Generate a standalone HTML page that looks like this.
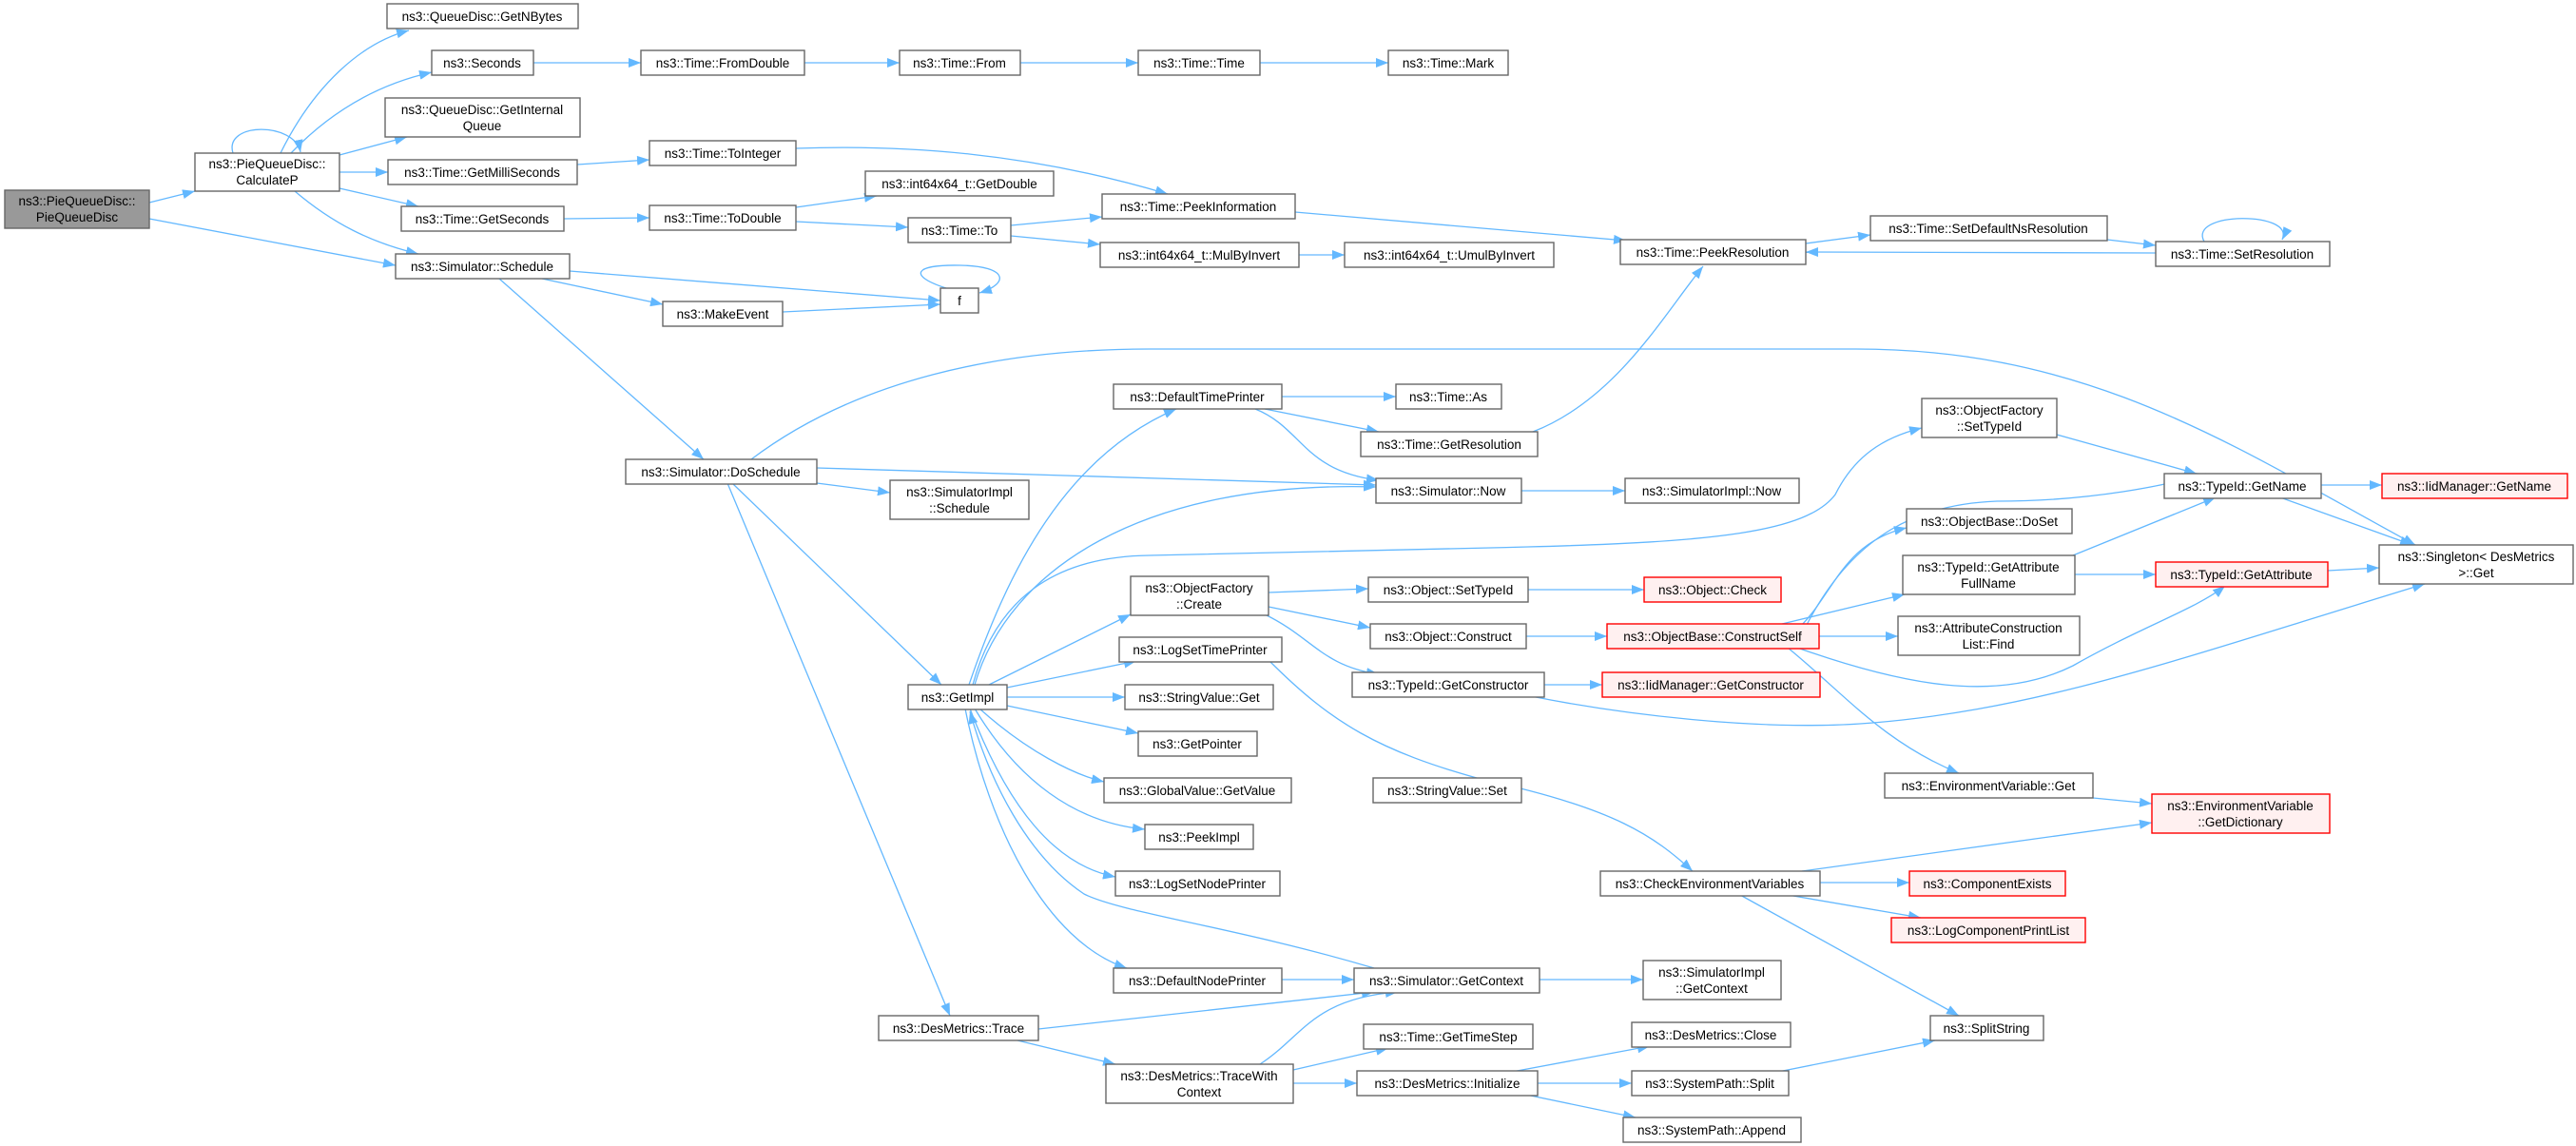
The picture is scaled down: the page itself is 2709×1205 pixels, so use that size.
<!DOCTYPE html>
<html><head><meta charset="utf-8"><style>
html,body{margin:0;padding:0;background:#fff;}
svg{display:block;}
text{font-family:"Liberation Sans","DejaVu Sans",sans-serif;font-size:13.5px;fill:#000;text-anchor:middle;}
.n{fill:#fff;stroke:#666;stroke-width:1.4;}
.r{fill:#fff0f0;stroke:#ff0000;stroke-width:1.4;}
.g{fill:#999;stroke:#666;stroke-width:1.4;}
path{fill:none;stroke:#63b8ff;stroke-width:1.3;}
</style></head><body>
<svg width="2709" height="1205" viewBox="0 0 2709 1205" xmlns="http://www.w3.org/2000/svg">
<defs><marker id="a" markerUnits="userSpaceOnUse" markerWidth="14" markerHeight="10" refX="13" refY="5" orient="auto"><polygon points="0,0 13,5 0,10" fill="#63b8ff"/></marker></defs>
<g marker-end="url(#a)">
<path d="M157,213 L205,201"/>
<path d="M157,230 L416,279"/>
<path d="M245,161 C235,128 310,128 316,160"/>
<path d="M295,161 C330,90 380,45 430,32"/>
<path d="M306,161 C350,115 400,88 454,76"/>
<path d="M357,163 L428,144"/>
<path d="M357,181 L408,181"/>
<path d="M357,198 L440,217"/>
<path d="M310,201 C350,235 390,255 440,267"/>
<path d="M561,66 L674,66"/>
<path d="M846,66 L946,66"/>
<path d="M1073,66 L1197,66"/>
<path d="M1325,66 L1460,66"/>
<path d="M607,173 L683,168"/>
<path d="M593,230 L683,229"/>
<path d="M837,156 C950,152 1080,160 1228,204"/>
<path d="M837,218 L922,206"/>
<path d="M837,233 L955,239"/>
<path d="M1063,237 L1159,228"/>
<path d="M1063,248 L1157,257"/>
<path d="M1366,268 L1414,268"/>
<path d="M1362,223 C1500,235 1620,245 1710,253"/>
<path d="M1899,256 L1967,247"/>
<path d="M2216,252 L2267,258"/>
<path d="M2267,266 L1899,265"/>
<path d="M2318,254 C2300,222 2415,222 2400,252"/>
<path d="M599,285 L989,316"/>
<path d="M570,293 L697,320"/>
<path d="M823,328 L989,320"/>
<path d="M995,303 C955,290 960,278 1010,279 C1060,280 1062,298 1030,308"/>
<path d="M525,293 L740,483"/>
<path d="M790,483 C900,400 1050,367 1209,367 L1952,367 C2200,367 2350,470 2540,573"/>
<path d="M859,492 L1447,510"/>
<path d="M859,508 L936,518"/>
<path d="M770,508 L990,720"/>
<path d="M765,508 L999,1068"/>
<path d="M1348,417 L1468,417"/>
<path d="M1330,430 L1450,454"/>
<path d="M1320,430 C1370,450 1370,495 1450,505"/>
<path d="M1612,454 C1700,420 1750,330 1791,280"/>
<path d="M1600,516 L1709,516"/>
<path d="M1019,720 C1060,600 1120,480 1237,430"/>
<path d="M1025,720 C1060,600 1200,505 1447,512"/>
<path d="M1023,720 C1050,620 1120,585 1209,584 C1400,580 1500,578 1607,575 C1800,570 1900,560 1930,520 C1950,480 1980,460 2021,450"/>
<path d="M1040,720 L1189,646"/>
<path d="M1059,723 L1195,695"/>
<path d="M1059,733 L1183,733"/>
<path d="M1059,742 L1197,771"/>
<path d="M1030,745 C1080,790 1130,815 1161,822"/>
<path d="M1025,745 C1070,820 1130,865 1204,872"/>
<path d="M1020,745 C1060,850 1110,910 1173,922"/>
<path d="M1015,745 C1040,870 1100,990 1185,1018"/>
<path d="M1445,1018 C1300,975 1180,960 1140,940 C1080,900 1040,820 1020,748"/>
<path d="M1348,1030 L1424,1030"/>
<path d="M1619,1030 L1728,1030"/>
<path d="M1092,1082 C1250,1065 1380,1050 1445,1043"/>
<path d="M1070,1094 L1173,1119"/>
<path d="M1325,1119 C1370,1090 1380,1050 1470,1043"/>
<path d="M1360,1125 L1460,1102"/>
<path d="M1360,1139 L1427,1139"/>
<path d="M1590,1127 L1735,1100"/>
<path d="M1617,1139 L1716,1139"/>
<path d="M1600,1150 L1720,1175"/>
<path d="M1870,1127 L2035,1094"/>
<path d="M1830,941 L2060,1068"/>
<path d="M1914,928 L2008,928"/>
<path d="M1880,941 L2020,965"/>
<path d="M1895,916 L2263,865"/>
<path d="M1335,695 C1400,760 1450,790 1560,820 C1700,850 1740,880 1780,916"/>
<path d="M2201,839 L2263,845"/>
<path d="M1334,623 L1439,619"/>
<path d="M1334,638 L1441,660"/>
<path d="M1330,646 C1380,670 1390,700 1450,709"/>
<path d="M1607,620 L1729,620"/>
<path d="M1605,669 L1690,669"/>
<path d="M1624,720 L1685,720"/>
<path d="M1610,732 C1700,750 1850,770 1970,760 C2150,745 2300,690 2550,614"/>
<path d="M1895,657 C1930,620 1940,570 2005,555"/>
<path d="M1870,657 L2003,625"/>
<path d="M1913,669 L1996,669"/>
<path d="M1900,657 C1950,560 2020,530 2100,527 C2200,527 2280,510 2320,498"/>
<path d="M1890,681 C2000,720 2100,740 2180,700 C2250,660 2310,640 2340,616"/>
<path d="M1880,681 C1940,730 1980,780 2060,813"/>
<path d="M2163,457 L2310,498"/>
<path d="M2180,584 L2330,523"/>
<path d="M2182,604 L2267,604"/>
<path d="M2441,510 L2505,510"/>
<path d="M2398,523 L2537,573"/>
<path d="M2448,600 L2502,597"/>
</g>

<rect class="g" x="5" y="200" width="152" height="40"/><text x="81" y="216">ns3::PieQueueDisc::</text><text x="81" y="233">PieQueueDisc</text>
<rect class="n" x="205" y="161" width="152" height="40"/><text x="281" y="177">ns3::PieQueueDisc::</text><text x="281" y="194">CalculateP</text>
<rect class="n" x="407" y="4" width="201" height="26"/><text x="507" y="22">ns3::QueueDisc::GetNBytes</text>
<rect class="n" x="454" y="53" width="107" height="26"/><text x="507" y="71">ns3::Seconds</text>
<rect class="n" x="405" y="103" width="205" height="41"/><text x="507" y="120">ns3::QueueDisc::GetInternal</text><text x="507" y="137">Queue</text>
<rect class="n" x="408" y="168" width="199" height="26"/><text x="507" y="186">ns3::Time::GetMilliSeconds</text>
<rect class="n" x="422" y="217" width="171" height="26"/><text x="507" y="235">ns3::Time::GetSeconds</text>
<rect class="n" x="416" y="267" width="183" height="26"/><text x="507" y="285">ns3::Simulator::Schedule</text>
<rect class="n" x="674" y="53" width="172" height="26"/><text x="760" y="71">ns3::Time::FromDouble</text>
<rect class="n" x="946" y="53" width="127" height="26"/><text x="1009" y="71">ns3::Time::From</text>
<rect class="n" x="1197" y="53" width="128" height="26"/><text x="1261" y="71">ns3::Time::Time</text>
<rect class="n" x="1460" y="53" width="126" height="26"/><text x="1523" y="71">ns3::Time::Mark</text>
<rect class="n" x="683" y="148" width="154" height="26"/><text x="760" y="166">ns3::Time::ToInteger</text>
<rect class="n" x="910" y="180" width="198" height="26"/><text x="1009" y="198">ns3::int64x64_t::GetDouble</text>
<rect class="n" x="683" y="216" width="154" height="26"/><text x="760" y="234">ns3::Time::ToDouble</text>
<rect class="n" x="955" y="229" width="108" height="26"/><text x="1009" y="247">ns3::Time::To</text>
<rect class="n" x="1159" y="204" width="203" height="26"/><text x="1260" y="222">ns3::Time::PeekInformation</text>
<rect class="n" x="1157" y="255" width="209" height="26"/><text x="1261" y="273">ns3::int64x64_t::MulByInvert</text>
<rect class="n" x="1414" y="255" width="220" height="26"/><text x="1524" y="273">ns3::int64x64_t::UmulByInvert</text>
<rect class="n" x="989" y="303" width="40" height="26"/><text x="1009" y="321">f</text>
<rect class="n" x="697" y="317" width="126" height="26"/><text x="760" y="335">ns3::MakeEvent</text>
<rect class="n" x="1704" y="252" width="195" height="26"/><text x="1801" y="270">ns3::Time::PeekResolution</text>
<rect class="n" x="1967" y="227" width="249" height="26"/><text x="2091" y="245">ns3::Time::SetDefaultNsResolution</text>
<rect class="n" x="2267" y="254" width="183" height="26"/><text x="2358" y="272">ns3::Time::SetResolution</text>
<rect class="n" x="1171" y="404" width="177" height="26"/><text x="1259" y="422">ns3::DefaultTimePrinter</text>
<rect class="n" x="1468" y="404" width="111" height="26"/><text x="1523" y="422">ns3::Time::As</text>
<rect class="n" x="1431" y="454" width="186" height="26"/><text x="1524" y="472">ns3::Time::GetResolution</text>
<rect class="n" x="1447" y="503" width="153" height="26"/><text x="1523" y="521">ns3::Simulator::Now</text>
<rect class="n" x="1709" y="503" width="183" height="26"/><text x="1800" y="521">ns3::SimulatorImpl::Now</text>
<rect class="n" x="2021" y="419" width="142" height="41"/><text x="2092" y="436">ns3::ObjectFactory</text><text x="2092" y="453">::SetTypeId</text>
<rect class="n" x="2276" y="498" width="165" height="26"/><text x="2358" y="516">ns3::TypeId::GetName</text>
<rect class="r" x="2505" y="498" width="195" height="26"/><text x="2602" y="516">ns3::IidManager::GetName</text>
<rect class="n" x="2005" y="535" width="174" height="26"/><text x="2092" y="553">ns3::ObjectBase::DoSet</text>
<rect class="n" x="2502" y="573" width="204" height="41"/><text x="2604" y="590">ns3::Singleton&lt; DesMetrics</text><text x="2604" y="607"> &gt;::Get</text>
<rect class="n" x="658" y="483" width="201" height="26"/><text x="758" y="501">ns3::Simulator::DoSchedule</text>
<rect class="n" x="936" y="505" width="146" height="41"/><text x="1009" y="522">ns3::SimulatorImpl</text><text x="1009" y="539">::Schedule</text>
<rect class="n" x="2001" y="584" width="181" height="41"/><text x="2091" y="601">ns3::TypeId::GetAttribute</text><text x="2091" y="618">FullName</text>
<rect class="r" x="2267" y="591" width="181" height="26"/><text x="2357" y="609">ns3::TypeId::GetAttribute</text>
<rect class="n" x="1189" y="606" width="145" height="41"/><text x="1261" y="623">ns3::ObjectFactory</text><text x="1261" y="640">::Create</text>
<rect class="n" x="1439" y="607" width="168" height="26"/><text x="1523" y="625">ns3::Object::SetTypeId</text>
<rect class="r" x="1729" y="607" width="144" height="26"/><text x="1801" y="625">ns3::Object::Check</text>
<rect class="n" x="1441" y="656" width="164" height="26"/><text x="1523" y="674">ns3::Object::Construct</text>
<rect class="r" x="1690" y="656" width="223" height="26"/><text x="1801" y="674">ns3::ObjectBase::ConstructSelf</text>
<rect class="n" x="1996" y="648" width="191" height="41"/><text x="2091" y="665">ns3::AttributeConstruction</text><text x="2091" y="682">List::Find</text>
<rect class="n" x="1177" y="670" width="171" height="26"/><text x="1262" y="688">ns3::LogSetTimePrinter</text>
<rect class="n" x="955" y="720" width="104" height="26"/><text x="1007" y="738">ns3::GetImpl</text>
<rect class="n" x="1422" y="707" width="202" height="26"/><text x="1523" y="725">ns3::TypeId::GetConstructor</text>
<rect class="r" x="1685" y="707" width="229" height="26"/><text x="1799" y="725">ns3::IidManager::GetConstructor</text>
<rect class="n" x="1183" y="720" width="156" height="26"/><text x="1261" y="738">ns3::StringValue::Get</text>
<rect class="n" x="1197" y="769" width="125" height="26"/><text x="1259" y="787">ns3::GetPointer</text>
<rect class="n" x="1161" y="818" width="197" height="26"/><text x="1259" y="836">ns3::GlobalValue::GetValue</text>
<rect class="n" x="1444" y="818" width="156" height="26"/><text x="1522" y="836">ns3::StringValue::Set</text>
<rect class="n" x="1982" y="813" width="219" height="26"/><text x="2091" y="831">ns3::EnvironmentVariable::Get</text>
<rect class="r" x="2263" y="835" width="187" height="41"/><text x="2356" y="852">ns3::EnvironmentVariable</text><text x="2356" y="869">::GetDictionary</text>
<rect class="n" x="1204" y="867" width="114" height="26"/><text x="1261" y="885">ns3::PeekImpl</text>
<rect class="n" x="1173" y="916" width="173" height="26"/><text x="1259" y="934">ns3::LogSetNodePrinter</text>
<rect class="n" x="1683" y="916" width="231" height="26"/><text x="1798" y="934">ns3::CheckEnvironmentVariables</text>
<rect class="r" x="2008" y="916" width="164" height="26"/><text x="2090" y="934">ns3::ComponentExists</text>
<rect class="r" x="1989" y="965" width="204" height="26"/><text x="2091" y="983">ns3::LogComponentPrintList</text>
<rect class="n" x="1171" y="1018" width="177" height="26"/><text x="1259" y="1036">ns3::DefaultNodePrinter</text>
<rect class="n" x="1424" y="1018" width="195" height="26"/><text x="1521" y="1036">ns3::Simulator::GetContext</text>
<rect class="n" x="1728" y="1010" width="145" height="41"/><text x="1800" y="1027">ns3::SimulatorImpl</text><text x="1800" y="1044">::GetContext</text>
<rect class="n" x="924" y="1068" width="168" height="26"/><text x="1008" y="1086">ns3::DesMetrics::Trace</text>
<rect class="n" x="2030" y="1068" width="119" height="26"/><text x="2089" y="1086">ns3::SplitString</text>
<rect class="n" x="1434" y="1077" width="178" height="26"/><text x="1523" y="1095">ns3::Time::GetTimeStep</text>
<rect class="n" x="1716" y="1075" width="167" height="26"/><text x="1799" y="1093">ns3::DesMetrics::Close</text>
<rect class="n" x="1163" y="1119" width="197" height="41"/><text x="1261" y="1136">ns3::DesMetrics::TraceWith</text><text x="1261" y="1153">Context</text>
<rect class="n" x="1427" y="1126" width="190" height="26"/><text x="1522" y="1144">ns3::DesMetrics::Initialize</text>
<rect class="n" x="1716" y="1126" width="165" height="26"/><text x="1798" y="1144">ns3::SystemPath::Split</text>
<rect class="n" x="1707" y="1175" width="187" height="26"/><text x="1800" y="1193">ns3::SystemPath::Append</text>
</svg>
</body></html>
